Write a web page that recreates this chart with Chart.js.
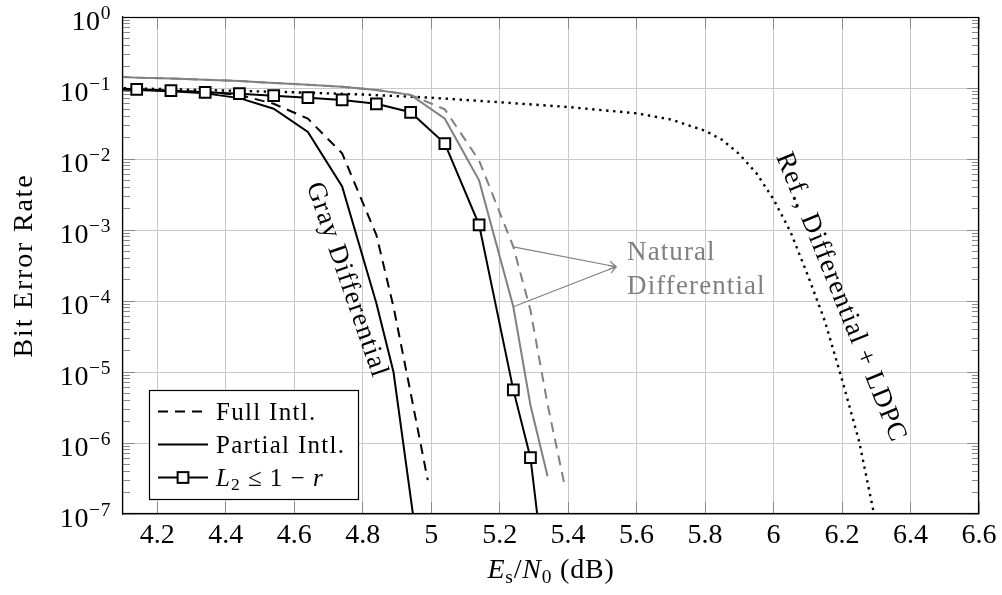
<!DOCTYPE html>
<html>
<head>
<meta charset="utf-8">
<script src="https://cdn.jsdelivr.net/npm/chart.js@4.4.0/dist/chart.umd.min.js"></script>
<style>
html,body{margin:0;padding:0;background:#fff;}
canvas{display:block;}
</style>
</head>
<body>
<canvas id="c" width="1002" height="595"></canvas>
<script>
// ---------- data ----------
const xTicks = [4.2, 4.4, 4.6, 4.8, 5.0, 5.2, 5.4, 5.6, 5.8, 6.0, 6.2, 6.4, 6.6];
const xTickLabels = ['4.2', '4.4', '4.6', '4.8', '5', '5.2', '5.4', '5.6', '5.8', '6', '6.2', '6.4', '6.6'];
const yTickExponents = [0, -1, -2, -3, -4, -5, -6, -7];
const yTickLabels = ['0', '\u22121', '\u22122', '\u22123', '\u22124', '\u22125', '\u22126', '\u22127'];

// Gray differential, L2 <= 1 - r (squares)
const l2X = [4.04, 4.14, 4.24, 4.34, 4.44, 4.54, 4.64, 4.74, 4.84, 4.94, 5.04, 5.14, 5.24, 5.29, 5.34];
const l2Y = [0.1, 0.096, 0.0916, 0.087, 0.083, 0.078, 0.073, 0.068, 0.06, 0.0455, 0.0165, 0.00118, 5.6e-6, 6.2e-7, 6e-9];
// Gray differential, partial interleaving (solid black)
const grayPartialX = [4.04, 4.14, 4.24, 4.34, 4.44, 4.54, 4.64, 4.74, 4.84, 4.89, 4.99];
const grayPartialY = [0.097, 0.094, 0.09, 0.084, 0.072, 0.051, 0.024, 0.0041, 9.3e-5, 1e-5, 3e-9];
// Gray differential, full interleaving (dashed black)
const grayFullX = [4.04, 4.14, 4.24, 4.34, 4.44, 4.54, 4.64, 4.74, 4.84, 4.89, 4.94, 4.99];
const grayFullY = [0.098, 0.095, 0.092, 0.088, 0.08, 0.06, 0.037, 0.012, 8.5e-4, 8.3e-5, 5.1e-6, 3e-7];
// Natural differential, partial interleaving (solid gray)
const naturalPartialX = [4.04, 4.14, 4.24, 4.34, 4.44, 4.54, 4.64, 4.74, 4.84, 4.94, 5.04, 5.14, 5.24, 5.29, 5.34];
const naturalPartialY = [0.146, 0.14, 0.136, 0.131, 0.125, 0.118, 0.111, 0.104, 0.094, 0.08, 0.037, 0.005, 8.3e-5, 3.4e-6, 3.4e-7];
// Natural differential, full interleaving (dashed gray)
const naturalFullX = [4.04, 4.14, 4.24, 4.34, 4.44, 4.54, 4.64, 4.74, 4.84, 4.94, 5.04, 5.14, 5.24, 5.29, 5.34, 5.39];
const naturalFullY = [0.146, 0.14, 0.136, 0.131, 0.125, 0.118, 0.111, 0.104, 0.094, 0.08, 0.05, 0.0095, 5.8e-4, 7.4e-5, 3.5e-6, 2.5e-7];
// Reference: differential + LDPC (dotted)
const refX = [4.0, 4.2, 4.4, 4.6, 4.8, 5.0, 5.2, 5.4, 5.6, 5.7, 5.8, 5.85, 5.9, 5.95, 6.0, 6.05, 6.1, 6.15, 6.2, 6.25, 6.3];
const refY = [0.102, 0.097, 0.092, 0.087, 0.081, 0.073, 0.063, 0.054, 0.044, 0.036, 0.025, 0.0186, 0.0117, 0.0063, 0.0027, 0.00093, 2.3e-4, 5.2e-5, 7.8e-6, 1.05e-6, 7e-8];

const legendLabels = ['Full Intl.', 'Partial Intl.', 'L\u2082 \u2264 1 \u2212 r'];

// ---------- styles / layout ----------
const SERIF = '"Liberation Serif", "Times New Roman", serif';
const GRAY = '#808080';
const GRID = '#c9c9c9';
const TICKC = '#8a8a8a';

const pts = (xs, ys) => xs.map((x, i) => ({x: x, y: ys[i]}));
const isDecade = v => Math.abs(Math.log10(v) - Math.round(Math.log10(v))) < 1e-9;

const yTickValues = [];
for (let e = -7; e <= 0; e++) {
  yTickValues.push(Math.pow(10, e));
  if (e < 0) for (let m = 2; m <= 9; m++) yTickValues.push(m * Math.pow(10, e));
}

const datasets = [
  {label: legendLabels[2], data: pts(l2X, l2Y), borderColor: '#000', borderWidth: 2,
   pointStyle: 'rect', pointRadius: 7.6, pointBorderWidth: 2, pointBorderColor: '#000', pointBackgroundColor: '#fff'},
  {label: legendLabels[1], data: pts(grayPartialX, grayPartialY), borderColor: '#000', borderWidth: 2, pointRadius: 0},
  {label: legendLabels[0], data: pts(grayFullX, grayFullY), borderColor: '#000', borderWidth: 2, borderDash: [10, 7], pointRadius: 0},
  {label: 'Natural Partial', data: pts(naturalPartialX, naturalPartialY), borderColor: GRAY, borderWidth: 2, pointRadius: 0},
  {label: 'Natural Full', data: pts(naturalFullX, naturalFullY), borderColor: GRAY, borderWidth: 2, borderDash: [10, 7], pointRadius: 0},
  {label: 'Ref.', data: pts(refX, refY), borderColor: '#000', borderWidth: 2.4, borderDash: [2.4, 4.6], pointRadius: 0}
];
datasets.forEach(d => { d.fill = false; d.tension = 0; });

function drawParts(ctx, parts, x, y, align, spacing) {
  // parts: [{t, font, dy}]
  ctx.letterSpacing = (spacing || 0) + 'px';
  let w = 0;
  parts.forEach(p => { ctx.font = p.font; p.w = ctx.measureText(p.t).width; w += p.w; });
  let cx = align === 'right' ? x - w : (align === 'center' ? x - w / 2 : x);
  ctx.textAlign = 'left';
  parts.forEach(p => { ctx.font = p.font; ctx.fillText(p.t, cx, y + (p.dy || 0)); cx += p.w; });
  ctx.letterSpacing = '0px';
  return w;
}
const F = (size, style) => (style ? style + ' ' : '') + size + 'px ' + SERIF;

const deco = {
  id: 'deco',
  beforeDatasetsDraw(chart) {
    const {ctx, chartArea: a, scales: {x, y}} = chart;
    const al = p => Math.round(p - 0.5) + 0.5;
    ctx.save();
    ctx.strokeStyle = TICKC;
    ctx.lineWidth = 1;
    ctx.beginPath();
    x.ticks.forEach(t => {
      const px = al(x.getPixelForValue(t.value));
      ctx.moveTo(px, a.bottom); ctx.lineTo(px, a.bottom - 12);
      ctx.moveTo(px, a.top); ctx.lineTo(px, a.top + 12);
    });
    y.ticks.forEach(t => {
      const py = al(y.getPixelForValue(t.value));
      const len = isDecade(t.value) ? 12 : 7;
      ctx.moveTo(a.left, py); ctx.lineTo(a.left + len, py);
      ctx.moveTo(a.right, py); ctx.lineTo(a.right - len, py);
    });
    ctx.stroke();
    ctx.restore();
  },
  afterDatasetsDraw(chart) {
    const {ctx, chartArea: a} = chart;
    ctx.save();
    ctx.strokeStyle = '#000';
    ctx.lineWidth = 1.2;
    ctx.strokeRect(Math.round(a.left) - 0.5, Math.round(a.top) + 0.5, Math.round(a.right - a.left), Math.round(a.bottom - a.top) - 1);
    ctx.restore();
  },
  afterDraw(chart) {
    const {ctx, chartArea: a, scales: {x, y}} = chart;
    ctx.save();
    ctx.fillStyle = '#000';
    ctx.textBaseline = 'alphabetic';

    // y tick labels 10^n
    yTickExponents.forEach((e, i) => {
      const py = y.getPixelForValue(Math.pow(10, e));
      drawParts(ctx, [
        {t: '10', font: F(28)},
        {t: yTickLabels[i], font: F(19.5), dy: -10.5}
      ], a.left - 12, py + 12.5, 'right', 0.6);
    });

    // y axis title
    ctx.save();
    ctx.translate(32, (a.top + a.bottom) / 2);
    ctx.rotate(-Math.PI / 2);
    drawParts(ctx, [{t: 'Bit Error Rate', font: F(28)}], 0, 0, 'center', 1.8);
    ctx.restore();

    // x axis title  E_s / N_0 (dB)
    drawParts(ctx, [
      {t: 'E', font: F(28, 'italic')},
      {t: 's', font: F(19.5), dy: 5},
      {t: '/', font: F(28)},
      {t: 'N', font: F(28, 'italic')},
      {t: '0', font: F(19.5), dy: 5},
      {t: ' (dB)', font: F(28)}
    ], (a.left + a.right) / 2, 578, 'center', 0.8);

    // rotated curve annotations
    const rot = (text, xv, yv, deg, color) => {
      ctx.save();
      ctx.fillStyle = color;
      ctx.translate(x.getPixelForValue(xv), y.getPixelForValue(yv));
      ctx.rotate(deg * Math.PI / 180);
      ctx.textBaseline = 'middle';
      drawParts(ctx, [{t: text, font: F(27)}], 0, 0, 'center', 1.1);
      ctx.restore();
    };
    rot('Gray Differential', 4.753, 1.98e-4, 71, '#000');
    rot('Ref., Differential + LDPC', 6.196, 1.12e-4, 68, '#000');

    // Natural Differential with two arrows
    const tipX = x.getPixelForValue(5.54), tipY = y.getPixelForValue(3.04e-4);
    const starts = [
      [x.getPixelForValue(naturalFullX[12]), y.getPixelForValue(naturalFullY[12])],
      [x.getPixelForValue(naturalPartialX[12]), y.getPixelForValue(naturalPartialY[12])]
    ];
    ctx.strokeStyle = GRAY;
    ctx.lineWidth = 1.2;
    starts.forEach(([sx, sy]) => {
      ctx.beginPath();
      ctx.moveTo(sx, sy); ctx.lineTo(tipX, tipY);
      const ang = Math.atan2(tipY - sy, tipX - sx);
      const L = 8, h = 0.55;
      ctx.moveTo(tipX - L * Math.cos(ang - h), tipY - L * Math.sin(ang - h));
      ctx.lineTo(tipX, tipY);
      ctx.lineTo(tipX - L * Math.cos(ang + h), tipY - L * Math.sin(ang + h));
      ctx.stroke();
    });
    ctx.fillStyle = GRAY;
    drawParts(ctx, [{t: 'Natural', font: F(27)}], tipX + 11, tipY - 6.5, 'left', 1.1);
    drawParts(ctx, [{t: 'Differential', font: F(27)}], tipX + 11, tipY + 27.5, 'left', 1.1);

    // legend
    const lx = 149, ly = 390, lw = 209, lh = 109;
    ctx.fillStyle = '#fff';
    ctx.fillRect(lx, ly, lw, lh);
    ctx.strokeStyle = '#000';
    ctx.lineWidth = 1.2;
    ctx.strokeRect(lx + 0.5, ly + 0.5, lw, lh);
    const rows = [2, 1, 0];
    rows.forEach((di, r) => {
      const ds = chart.data.datasets[di];
      const ry = ly + 21.5 + r * 33;
      ctx.save();
      ctx.strokeStyle = ds.borderColor;
      ctx.lineWidth = ds.borderWidth;
      ctx.setLineDash(ds.borderDash || []);
      ctx.beginPath();
      ctx.moveTo(158, ry); ctx.lineTo(208, ry);
      ctx.stroke();
      ctx.setLineDash([]);
      if (ds.pointStyle === 'rect') {
        const s = ds.pointRadius * Math.SQRT1_2;
        ctx.fillStyle = '#fff';
        ctx.fillRect(183 - s, ry - s, 2 * s, 2 * s);
        ctx.lineWidth = ds.pointBorderWidth;
        ctx.strokeRect(183 - s, ry - s, 2 * s, 2 * s);
      }
      ctx.restore();
      ctx.fillStyle = '#000';
      const by = ry + 8;
      if (di === 0) {
        drawParts(ctx, [
          {t: 'L', font: F(25, 'italic')},
          {t: '2', font: F(17.5), dy: 4},
          {t: ' \u2264 1 \u2212 ', font: F(25)},
          {t: 'r', font: F(25, 'italic')}
        ], 216, by, 'left', 1.0);
      } else {
        drawParts(ctx, [{t: legendLabels[di === 2 ? 0 : 1], font: F(25)}], 216, by, 'left', 1.3);
      }
    });
    ctx.restore();
  }
};

Chart.defaults.font.family = SERIF;
Chart.defaults.color = '#000';

new Chart(document.getElementById('c'), {
  type: 'line',
  data: {datasets: datasets},
  options: {
    responsive: false,
    animation: false,
    events: [],
    layout: {padding: {left: 123, right: 23, top: 17, bottom: 0}},
    plugins: {legend: {display: false}, tooltip: {enabled: false}},
    scales: {
      x: {
        type: 'linear', min: 4.1, max: 6.6,
        afterBuildTicks: s => { s.ticks = xTicks.map(v => ({value: v})); },
        afterFit: s => { s.height = 81; },
        grid: {color: GRID, lineWidth: 1, drawTicks: false},
        border: {color: '#000', width: 1.2},
        ticks: {font: {size: 28, family: SERIF}, color: '#000', padding: 5, maxRotation: 0, autoSkip: false,
                callback: (v, i) => xTickLabels[i]}
      },
      y: {
        type: 'logarithmic', min: 1e-7, max: 1,
        afterBuildTicks: s => { s.ticks = yTickValues.map(v => ({value: v})); },
        afterFit: s => { s.width = 0; },
        grid: {color: c => (c.tick && isDecade(c.tick.value)) ? GRID : 'rgba(0,0,0,0)', lineWidth: 1, drawTicks: false},
        border: {color: '#000', width: 1.2},
        ticks: {display: false}
      }
    }
  },
  plugins: [deco]
});
</script>
</body>
</html>
